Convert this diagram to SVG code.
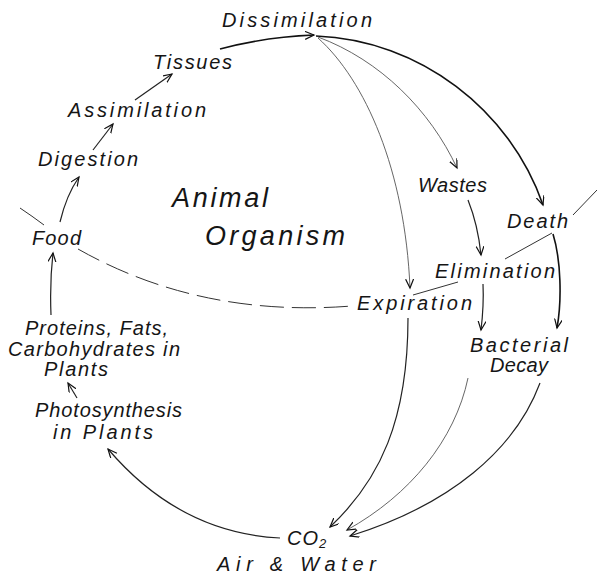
<svg xmlns="http://www.w3.org/2000/svg" width="597" height="574" viewBox="0 0 597 574">
<style>
text{font-family:"Liberation Sans",Arial,sans-serif;font-style:italic;font-size:20px;fill:#151515}
.big{font-size:27px}
.c{fill:none;stroke:#222;stroke-width:1.2}
.thin{fill:none;stroke:#555;stroke-width:0.9}
.bold{fill:none;stroke:#111;stroke-width:1.6}
.b{fill:none;stroke:#333;stroke-width:1}
.a{marker-end:url(#ah)}
</style>
<defs>
<marker id="ah" markerWidth="12" markerHeight="10" refX="9" refY="4" orient="auto" markerUnits="userSpaceOnUse">
<path d="M0,0 L9,4 L0,8" fill="none" stroke="#111" stroke-width="1.2"/>
</marker>
</defs>
<rect width="597" height="574" fill="#fff"/>
<g id="connectors">
<path class="c a" d="M60,222 C64,205 70,190 79,177"/>
<path class="c a" d="M93,150 L113,124"/>
<path class="c a" d="M135,100 L172,74"/>
<path class="bold a" d="M220,49 Q265,37 314,35"/>
<path class="bold a" d="M316,36 C420,40 510,110 543,205"/>
<path class="thin a" d="M318,37 C380,60 430,110 457,168"/>
<path class="thin a" d="M318,38 C365,80 405,170 410,288"/>
<path class="bold a" d="M553,234 C561,260 562,300 557,328"/>
<path class="c a" d="M468,200 Q478,225 481,255"/>
<path class="c a" d="M483,284 Q484,305 481,330"/>
<path class="c a" d="M408,318 C408,420 380,480 330,527"/>
<path class="thin a" d="M468,378 C455,440 410,495 347,530"/>
<path class="c a" d="M540,383 C515,450 450,505 350,536"/>
<path class="c a" d="M280,538 C220,535 160,510 108,449"/>
<path class="c a" d="M77,398 L68,383"/>
<path class="c a" d="M51,315 C50,290 51,270 53,253"/>
<path class="b" d="M20,208 Q32,216 44,225"/>
<path class="b" d="M78,249 Q200,318 352,306" stroke-dasharray="24 8"/>
<path class="b" d="M413,295 L458,282"/>
<path class="b" d="M505,259 L552,233"/>
<path class="b" d="M573,215 L597,190"/>
</g>
<g id="dissimilation"><text x="222" y="27" textLength="150" lengthAdjust="spacing">Dissimilation</text></g>
<g id="tissues"><text x="153" y="69" textLength="79" lengthAdjust="spacing">Tissues</text></g>
<g id="assimilation"><text x="68" y="117" textLength="138" lengthAdjust="spacing">Assimilation</text></g>
<g id="digestion"><text x="38" y="166" textLength="100" lengthAdjust="spacing">Digestion</text></g>
<g id="food"><text x="32" y="245" textLength="49" lengthAdjust="spacing">Food</text></g>
<g id="animal-organism">
<text class="big" x="172" y="207" textLength="96" lengthAdjust="spacing">Animal</text>
<text class="big" x="205" y="245" textLength="140" lengthAdjust="spacing">Organism</text>
</g>
<g id="wastes"><text x="418" y="192" textLength="69" lengthAdjust="spacing">Wastes</text></g>
<g id="death"><text x="507" y="228" textLength="61" lengthAdjust="spacing">Death</text></g>
<g id="elimination"><text x="435" y="278" textLength="120" lengthAdjust="spacing">Elimination</text></g>
<g id="expiration"><text x="357" y="310" textLength="115" lengthAdjust="spacing">Expiration</text></g>
<g id="bacterial-decay">
<text x="470" y="352" textLength="98" lengthAdjust="spacing">Bacterial</text>
<text x="490" y="372" textLength="58" lengthAdjust="spacing">Decay</text>
</g>
<g id="proteins">
<text x="25" y="335" textLength="143" lengthAdjust="spacing">Proteins, Fats,</text>
<text x="8" y="356" textLength="172" lengthAdjust="spacing">Carbohydrates in</text>
<text x="44" y="376" textLength="64" lengthAdjust="spacing">Plants</text>
</g>
<g id="photosynthesis">
<text x="35" y="417" textLength="147" lengthAdjust="spacing">Photosynthesis</text>
<text x="53" y="439" textLength="100" lengthAdjust="spacing">in Plants</text>
</g>
<g id="co2">
<text x="287" y="545" letter-spacing="1">CO<tspan font-size="13" dy="3">2</tspan></text>
<text x="217" y="571" font-size="21" textLength="159" lengthAdjust="spacing">Air &amp; Water</text>
</g>
</svg>
